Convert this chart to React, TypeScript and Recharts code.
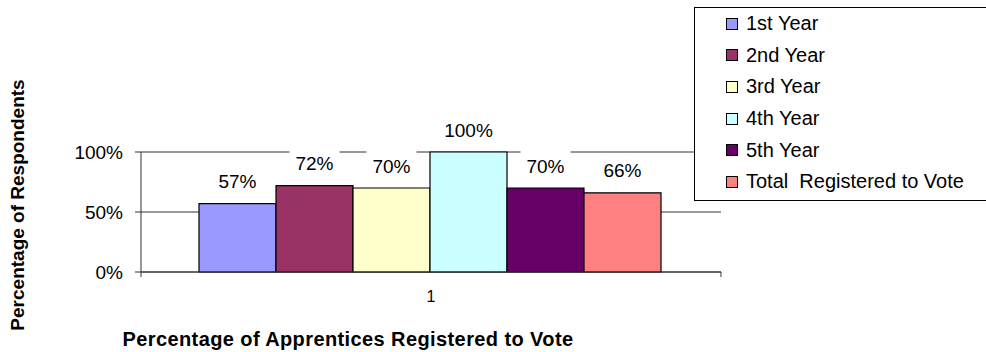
import { BarChart, Bar, XAxis, YAxis, CartesianGrid, LabelList } from 'recharts';

/** Survey: share of apprentices registered to vote, by year of training. */

const categories = ['1'];
const seriesNames = ['1st Year', '2nd Year', '3rd Year', '4th Year', '5th Year', 'Total  Registered to Vote'];
const seriesKeys = ['y1', 'y2', 'y3', 'y4', 'y5', 'total'];
const seriesValues = [57, 72, 70, 100, 70, 66];
const seriesColors = ['#9999FF', '#993366', '#FFFFCC', '#CCFFFF', '#660066', '#FF8080'];
const yTicks = [0, 50, 100];

const FONT = '"Liberation Sans", Arial, sans-serif';
const CHART_W = 986;
const CHART_H = 352;
const X_AXIS_H = 30;
const MARGIN = { top: 152, right: 265, bottom: 80 - X_AXIS_H, left: 81 };
const Y_AXIS_W = 60;
const PLOT_W = CHART_W - MARGIN.left - Y_AXIS_W - MARGIN.right;

const data = categories.map((name) => {
  const row: Record<string, string | number> = { name };
  seriesKeys.forEach((k, i) => {
    row[k] = seriesValues[i];
  });
  return row;
});

// Excel-style value label: white box behind the text hides the gridline
function BoxLabel(props: any) {
  const { x, y, width, value } = props;
  const cx = Number(x) + Number(width) / 2;
  const cy = Number(y) - 22;
  return (
    <g>
      <rect x={cx - 25} y={cy - 16} width={50} height={32} fill="#fff" />
      <text x={cx} y={cy} textAnchor="middle" dominantBaseline="central" fontSize={19} fontFamily={FONT} fill="#000">
        {`${value}%`}
      </text>
    </g>
  );
}

// category tick: label in the middle, tick marks at the category edges
function CategoryTick(props: any) {
  const { x, y, payload } = props;
  const axisY = y - 8;
  return (
    <g>
      <line x1={x - PLOT_W / 2} x2={x - PLOT_W / 2} y1={axisY} y2={axisY + 5} stroke="#333" />
      <line x1={x + PLOT_W / 2} x2={x + PLOT_W / 2} y1={axisY} y2={axisY + 5} stroke="#333" />
      <text x={x} y={axisY + 24} textAnchor="middle" dominantBaseline="central" fontSize={16} fontFamily={FONT} fill="#000">
        {payload.value}
      </text>
    </g>
  );
}

export default function App() {
  return (
    <div style={{ position: 'relative', width: CHART_W, height: CHART_H, background: '#fff', fontFamily: FONT }}>
      <style>{'body{margin:0}'}</style>
      <BarChart width={CHART_W} height={CHART_H} data={data} margin={MARGIN} barCategoryGap="10%" barGap={0}>
        <CartesianGrid vertical={false} stroke="#333" />
        <XAxis
          dataKey="name"
          height={X_AXIS_H}
          tickLine={false}
          axisLine={{ stroke: '#333' }}
          tickSize={6}
          tickMargin={2}
          tick={<CategoryTick />}
        />
        <YAxis
          width={Y_AXIS_W}
          domain={[0, 100]}
          ticks={yTicks}
          tickFormatter={(v: number) => `${v}%`}
          tickSize={6}
          tickMargin={12}
          tickLine={{ stroke: '#333' }}
          axisLine={{ stroke: '#333' }}
          tick={{ fill: '#000', fontSize: 19, fontFamily: FONT }}
        />
        {seriesKeys.map((k, i) => (
          <Bar key={k} dataKey={k} name={seriesNames[i]} fill={seriesColors[i]} stroke="#000" strokeWidth={1.2} isAnimationActive={false}>
            <LabelList dataKey={k} content={<BoxLabel />} />
          </Bar>
        ))}
      </BarChart>

      {/* legend box, runs off the right edge like the original */}
      <div
        style={{
          position: 'absolute',
          left: 694,
          top: 7,
          width: 300,
          height: 194,
          border: '1.5px solid #000',
          background: '#fff',
          boxSizing: 'border-box',
          paddingTop: 0,
        }}
      >
        {seriesNames.map((n, i) => (
          <div key={n} style={{ display: 'flex', alignItems: 'center', height: 31.6, paddingLeft: 31, fontSize: 20, whiteSpace: 'pre' }}>
            <span
              style={{
                display: 'inline-block',
                width: 10,
                height: 10,
                background: seriesColors[i],
                border: '1px solid #000',
                marginRight: 8,
              }}
            />
            {n}
          </div>
        ))}
      </div>

      <div
        style={{
          position: 'absolute',
          left: 18,
          top: 205,
          transform: 'translate(-50%, -50%) rotate(-90deg)',
          fontSize: 19,
          fontWeight: 'bold',
          whiteSpace: 'nowrap',
        }}
      >
        Percentage of Respondents
      </div>
      <div
        style={{
          position: 'absolute',
          left: 348,
          top: 339,
          transform: 'translate(-50%, -50%)',
          fontSize: 20,
          fontWeight: 'bold',
          letterSpacing: 0.4,
          whiteSpace: 'nowrap',
        }}
      >
        Percentage of Apprentices Registered to Vote
      </div>
    </div>
  );
}
